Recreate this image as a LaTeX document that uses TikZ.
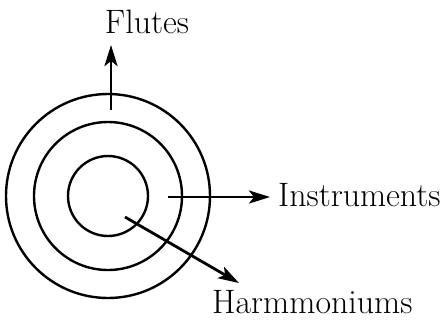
\documentclass[tikz,border=0pt]{standalone}
\usetikzlibrary{arrows.meta, positioning}
\tikzset{
  ring/.style={circle, draw, line width=2.4bp, inner sep=0pt},
  arrow/.style={-{Stealth[length=21bp, width=13bp, inset=5bp]}, line width=2.8bp},
  lbl/.style={font=\fontsize{34}{38}\selectfont, inner sep=0pt}
}

\begin{document}
\begin{tikzpicture}[x=1bp, y=-1bp]
  \useasboundingbox (0,0) rectangle (444,320);

  % Circles
  \node[ring, minimum size=204bp] (outer) at (108,196) {};
  \node[ring, minimum size=148bp] (middle) at (108,196) {};
  \node[ring, minimum size=80bp] (inner) at (108,196) {};

  % Labels
  \node[lbl, anchor=base] (flutes) at (147,33) {Flutes};
  \node[lbl, anchor=base west] (instr) at (278,206) {Instruments};
  \node[lbl, anchor=base west] (harm) at (212,313) {Harmmoniums};

  % Arrow ends
  \coordinate (ftail) at (111,110);
  \coordinate (fhead) at (111,45);
  \coordinate (itail) at (168,197);
  \coordinate (ihead) at (270,197);
  \coordinate (htail) at (125,217);
  \coordinate (hhead) at (239,283);

  % Arrows
  \draw[arrow] (ftail) -- (fhead);
  \draw[arrow] (itail) -- (ihead);
  \draw[arrow] (htail) -- (hhead);
\end{tikzpicture}
\end{document}
